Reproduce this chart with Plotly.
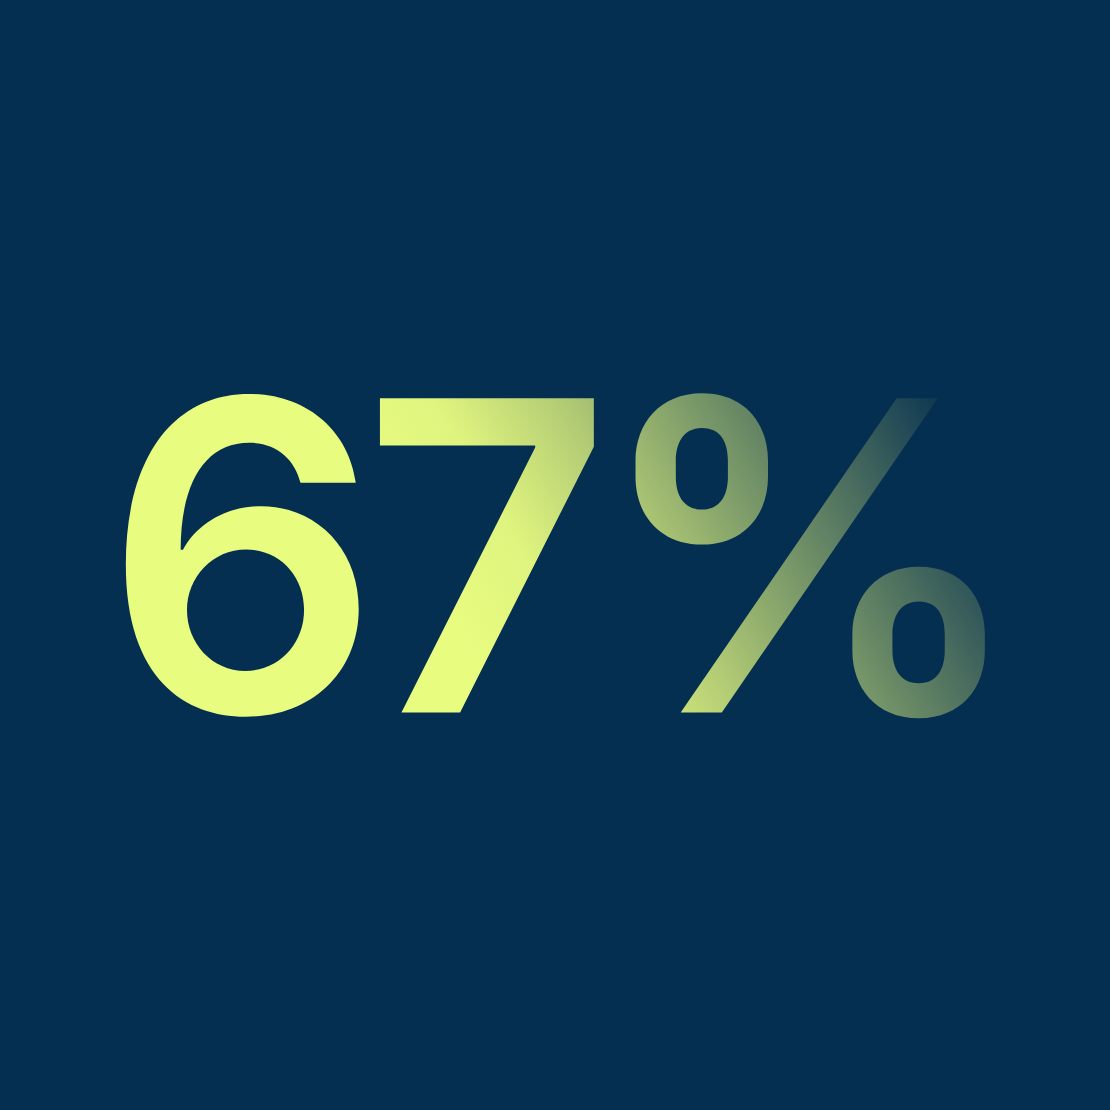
import plotly.graph_objects as go

# headline figure
value = 67
suffix = "%"

bg_color = "#052F50"
text_color = "#E8FC80"

fig = go.Figure()
fig.add_trace(
    go.Indicator(
        mode="number",
        value=value,
        number=dict(
            suffix=suffix,
            font=dict(family="Inter", size=432, color=text_color, weight=600),
        ),
        domain=dict(x=[0.003, 1], y=[0, 1]),
    )
)

fig.update_layout(
    width=1110,
    height=1110,
    margin=dict(l=0, r=0, t=0, b=0),
    paper_bgcolor=bg_color,
    plot_bgcolor=bg_color,
)

# the number fades out towards the top right: swap its flat fill for an svg gradient
fade_js = """
document.body.style.margin = '0';
var gd = document.getElementById('{plot_id}');
function paintFade() {
  var t = gd.querySelector('text.number');
  if (!t) return;
  t.style.letterSpacing = '-18px';
  var svg = gd.querySelector('svg.main-svg');
  var ns = 'http://www.w3.org/2000/svg';
  var grad = document.getElementById('pct-fade');
  if (!grad) {
    var defs = svg.querySelector('defs') || svg.insertBefore(document.createElementNS(ns, 'defs'), svg.firstChild);
    grad = document.createElementNS(ns, 'linearGradient');
    grad.setAttribute('id', 'pct-fade');
    grad.setAttribute('gradientUnits', 'userSpaceOnUse');
    [[0, 1], [0.18, 0.96], [0.36, 0.78], [1, 0]].forEach(function (s) {
      var st = document.createElementNS(ns, 'stop');
      st.setAttribute('offset', s[0]);
      st.setAttribute('stop-color', '""" + text_color + """');
      st.setAttribute('stop-opacity', s[1]);
      grad.appendChild(st);
    });
    defs.appendChild(grad);
  }
  var r = gd.getBoundingClientRect();
  var m = t.getScreenCTM().inverse();
  function pt(x, y) {
    var p = svg.createSVGPoint();
    p.x = r.left + x; p.y = r.top + y;
    return p.matrixTransform(m);
  }
  var a = pt(350, 450), b = pt(828, 172);
  grad.setAttribute('x1', a.x); grad.setAttribute('y1', a.y);
  grad.setAttribute('x2', b.x); grad.setAttribute('y2', b.y);
  t.style.fill = 'url(#pct-fade)';
  t.querySelectorAll('tspan').forEach(function (s) { s.style.fill = 'url(#pct-fade)'; });
}
paintFade();
gd.on('plotly_afterplot', paintFade);
"""

fig.write_html("out.html", post_script=fade_js, config=dict(displayModeBar=False))
